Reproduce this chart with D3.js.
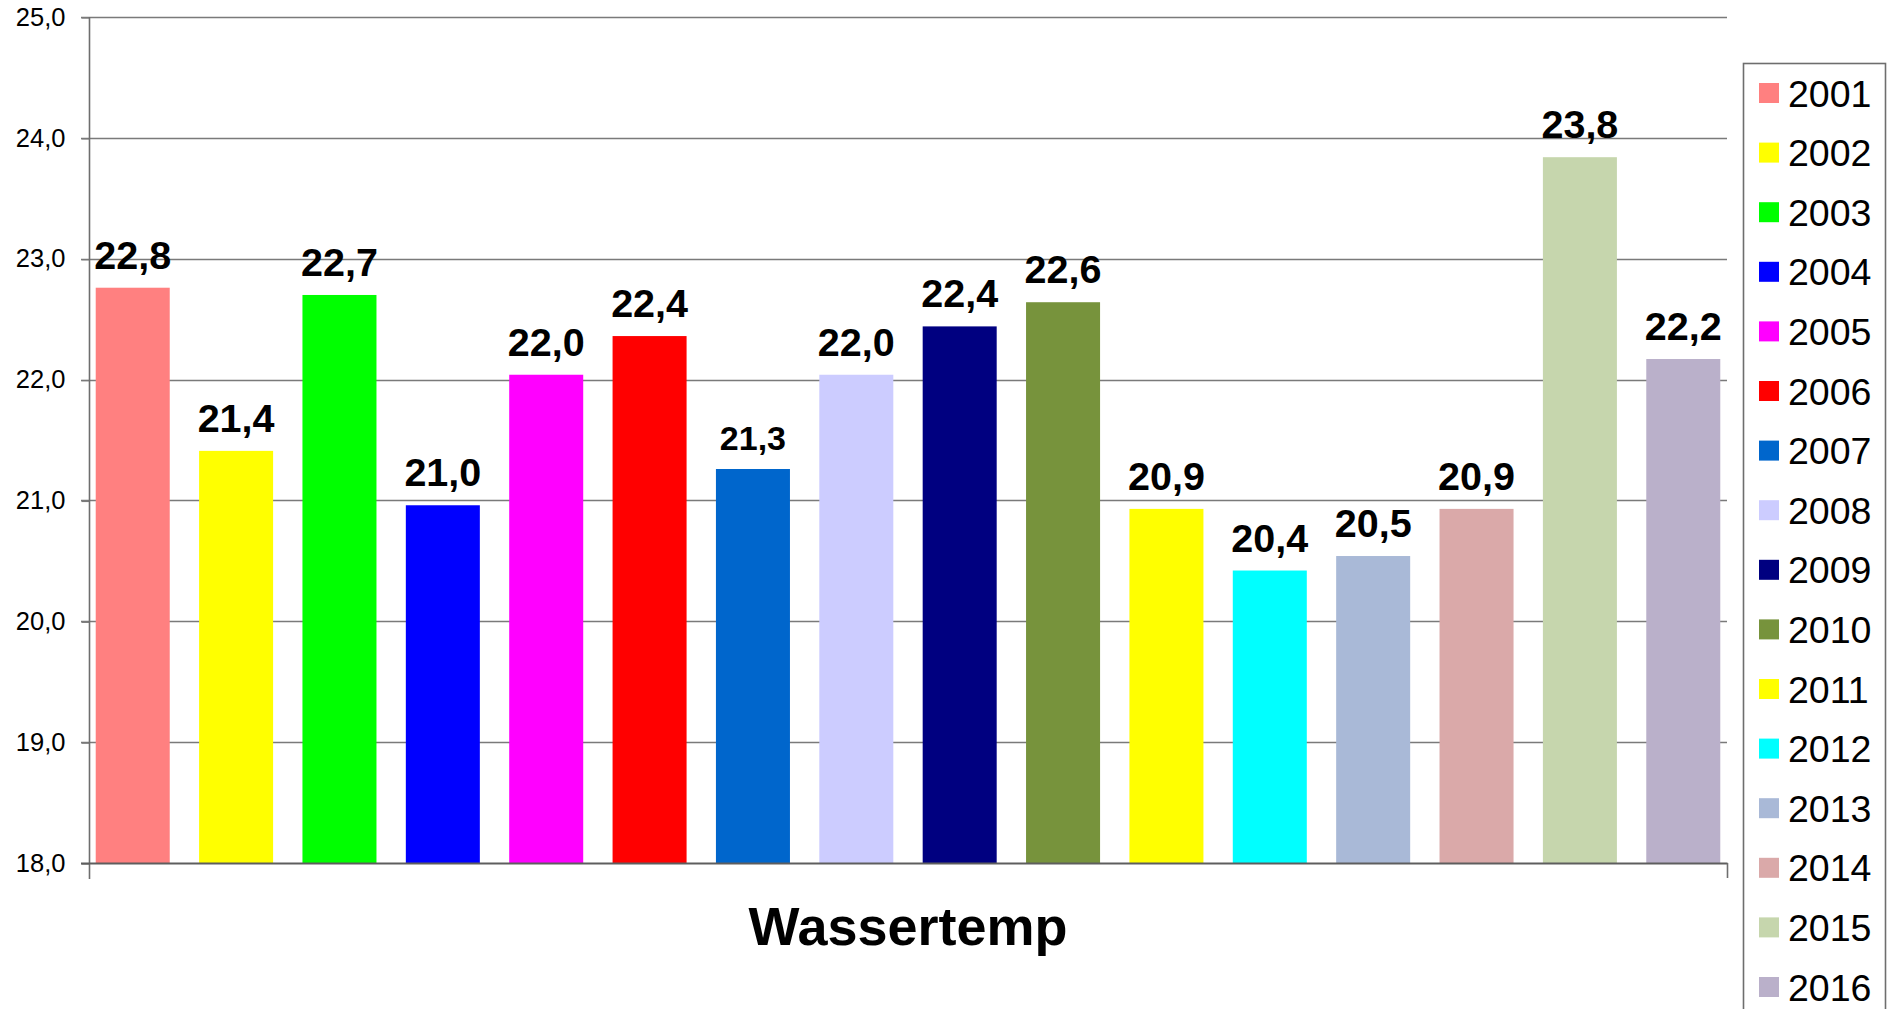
<!DOCTYPE html>
<html>
<head>
<meta charset="utf-8">
<script src="https://cdn.jsdelivr.net/npm/d3@7"></script>
<style>
  html, body { margin: 0; padding: 0; background: #ffffff; }
  svg { display: block; }
</style>
</head>
<body>
<svg id="chart" width="1887" height="1009"></svg>
<script>
// ---- data ----
const years = ["2001","2002","2003","2004","2005","2006","2007","2008",
               "2009","2010","2011","2012","2013","2014","2015","2016"];
const values = [22.76, 21.41, 22.70, 20.96, 22.04, 22.36, 21.26, 22.04,
                22.44, 22.64, 20.93, 20.42, 20.54, 20.93, 23.84, 22.17];
const colors = ["#FF8080","#FFFF00","#00FF00","#0000FF","#FF00FF","#FF0000","#0066CC","#CCCCFF",
                "#000080","#77933C","#FFFF00","#00FFFF","#A9B9D7","#DAA9A9","#C6D6AD","#BAB0CA"];
const yTicks = [18, 19, 20, 21, 22, 23, 24, 25];
const categoryLabel = "Wassertemp";
const smallLabelYears = ["2007"];

// ---- layout ----
const svg = d3.select("#chart");
const plot = { left: 89, right: 1727, top: 17, bottom: 863 };
const fontFamily = "'Liberation Sans', Arial, Helvetica, sans-serif";
const fmt = v => d3.format(".1f")(v).replace(".", ",");

const x = d3.scaleBand()
  .domain(years)
  .range([plot.left, plot.right])
  .paddingInner(0.284)
  .paddingOuter(0.065);

const y = d3.scaleLinear()
  .domain([18, 25])
  .range([plot.bottom, plot.top]);

const gridColor = "#7a7a7a";

// gridlines (behind bars)
svg.append("g")
  .selectAll("line")
  .data(yTicks.filter(t => t > 18))
  .join("line")
  .attr("x1", plot.left - 8)
  .attr("x2", plot.right)
  .attr("y1", d => Math.round(y(d)) + 0.5)
  .attr("y2", d => Math.round(y(d)) + 0.5)
  .attr("stroke", gridColor)
  .attr("stroke-width", 1.3);

// bars
const data = years.map((yr, i) => ({ year: yr, value: values[i], color: colors[i] }));
svg.append("g")
  .selectAll("rect")
  .data(data)
  .join("rect")
  .attr("x", d => x(d.year))
  .attr("width", x.bandwidth())
  .attr("y", d => y(d.value))
  .attr("height", d => y(18) - y(d.value))
  .attr("fill", d => d.color);

// y axis
const yAxis = d3.axisLeft(y)
  .tickValues(yTicks)
  .tickSize(8)
  .tickPadding(16)
  .tickFormat(d => fmt(d));
const gy = svg.append("g")
  .attr("transform", `translate(${plot.left + 0.5},0)`)
  .call(yAxis);
gy.select(".domain").remove();
gy.selectAll(".tick line").attr("stroke", gridColor).attr("stroke-width", 1.3)
  .attr("transform", "translate(0,0.5)");
gy.selectAll(".tick text")
  .attr("font-family", fontFamily)
  .attr("font-size", 25.5)
  .attr("fill", "#000");

// y axis line (extends below the baseline)
svg.append("line")
  .attr("x1", plot.left + 0.5).attr("x2", plot.left + 0.5)
  .attr("y1", plot.top).attr("y2", plot.bottom + 16)
  .attr("stroke", "#6e6e6e").attr("stroke-width", 1.6);

// x axis line
svg.append("line")
  .attr("x1", plot.left - 8).attr("x2", plot.right + 0.5)
  .attr("y1", plot.bottom + 0.5).attr("y2", plot.bottom + 0.5)
  .attr("stroke", "#5e5e5e").attr("stroke-width", 1.8);
// right end tick
svg.append("line")
  .attr("x1", plot.right + 0.5).attr("x2", plot.right + 0.5)
  .attr("y1", plot.bottom).attr("y2", plot.bottom + 15)
  .attr("stroke", "#6e6e6e").attr("stroke-width", 1.6);

// value labels
svg.append("g")
  .selectAll("text")
  .data(data)
  .join("text")
  .attr("x", d => x(d.year) + x.bandwidth() / 2)
  .attr("y", d => y(d.value) - 19)
  .attr("text-anchor", "middle")
  .attr("font-family", fontFamily)
  .attr("font-weight", "bold")
  .attr("font-size", d => smallLabelYears.includes(d.year) ? 34 : 39.5)
  .attr("fill", "#000")
  .text(d => fmt(d.value));

// category label
svg.append("text")
  .attr("x", (plot.left + plot.right) / 2)
  .attr("y", 945)
  .attr("text-anchor", "middle")
  .attr("font-family", fontFamily)
  .attr("font-weight", "bold")
  .attr("font-size", 54)
  .attr("fill", "#000")
  .text(categoryLabel);

// legend
const legend = svg.append("g");
legend.append("rect")
  .attr("x", 1743.5).attr("y", 63.5)
  .attr("width", 142).attr("height", 1000)
  .attr("fill", "#fff")
  .attr("stroke", "#6e6e6e").attr("stroke-width", 1.6);

const rowY = d3.scaleLinear().domain([0, years.length - 1]).range([93, 987]);
const items = legend.selectAll("g.item")
  .data(data)
  .join("g")
  .attr("class", "item")
  .attr("transform", (d, i) => `translate(0,${rowY(i)})`);
items.append("rect")
  .attr("x", 1759).attr("y", -10)
  .attr("width", 20).attr("height", 20)
  .attr("fill", d => d.color);
items.append("text")
  .attr("x", 1788).attr("y", 13.5)
  .attr("font-family", fontFamily)
  .attr("font-size", 37.5)
  .attr("fill", "#000")
  .text(d => d.year);
</script>
</body>
</html>
